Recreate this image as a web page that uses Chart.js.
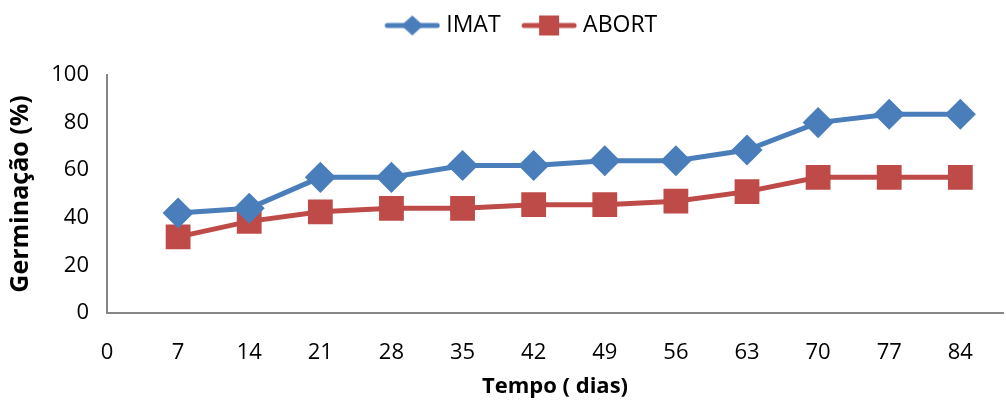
<!DOCTYPE html>
<html>
<head>
<meta charset="utf-8">
<script src="https://cdn.jsdelivr.net/npm/chart.js@4"></script>
<style>
  html, body { margin: 0; padding: 0; background: #fff; }
  #wrap { width: 1006px; height: 404px; }
</style>
</head>
<body>
<div id="wrap"><canvas id="chart" width="1006" height="404"></canvas></div>
<script>
// values
const days = [7, 14, 21, 28, 35, 42, 49, 56, 63, 70, 77, 84];
const xTicks = [0, 7, 14, 21, 28, 35, 42, 49, 56, 63, 70, 77, 84];
const imat = [42, 44, 57, 57, 62, 62, 64, 64, 68.5, 80, 83.5, 83.5];
const abort = [32, 38.5, 42.5, 44, 44, 45.5, 45.5, 47, 51, 57, 57, 57];
const yTicks = [0, 20, 40, 60, 80, 100];

const BLUE = '#4a7ebb';
const RED = '#be4b48';
const FONT = "'Open Sans', sans-serif";

// legend swatch: line with the marker on it, with some blank room on the left
function legendIcon(color, shape) {
    const c = document.createElement('canvas');
    c.width = 68; c.height = 22;
    const g = c.getContext('2d');
    g.strokeStyle = color;
    g.lineWidth = 5;
    g.lineCap = 'round';
    g.beginPath(); g.moveTo(15, 11); g.lineTo(65, 11); g.stroke();
    g.fillStyle = color;
    if (shape === 'diamond') {
        g.beginPath(); g.moveTo(40, 1); g.lineTo(51, 11); g.lineTo(40, 21); g.lineTo(29, 11); g.closePath(); g.fill();
    } else {
        g.fillRect(30, 1, 20, 20);
    }
    return c;
}

const toPoints = vals => vals.map((v, i) => ({ x: days[i], y: v }));

new Chart(document.getElementById('chart'), {
    type: 'line',
    data: {
        datasets: [{
            label: 'IMAT',
            data: toPoints(imat),
            borderColor: BLUE,
            backgroundColor: BLUE,
            borderWidth: 5,
            pointStyle: 'rectRot',
            pointRadius: 12,
            pointHoverRadius: 12,
            tension: 0
        }, {
            label: 'ABORT',
            data: toPoints(abort),
            borderColor: RED,
            backgroundColor: RED,
            borderWidth: 5,
            pointStyle: 'rect',
            pointRadius: 14,
            pointHoverRadius: 14,
            tension: 0
        }]
    },
    options: {
        responsive: false,
        animation: false,
        layout: { autoPadding: false, padding: { top: 0, right: 3, left: 0, bottom: 0 } },
        plugins: {
            legend: {
                position: 'top',
                labels: {
                    usePointStyle: true,
                    pointStyleWidth: 57,
                    padding: 14,
                    color: '#000',
                    font: { family: FONT, size: 23 },
                    generateLabels: chart => chart.data.datasets.map((ds, i) => ({
                        text: ds.label,
                        pointStyle: legendIcon(ds.borderColor, i === 0 ? 'diamond' : 'square'),
                        fillStyle: ds.borderColor,
                        strokeStyle: ds.borderColor,
                        lineWidth: 0,
                        fontColor: '#000',
                        datasetIndex: i
                    }))
                }
            },
            tooltip: { enabled: false }
        },
        scales: {
            x: {
                type: 'linear',
                min: 0,
                max: 88.2,
                afterBuildTicks: scale => { scale.ticks = xTicks.map(v => ({ value: v })); },
                afterFit: scale => { scale.height = 91; },
                grid: { display: false, drawTicks: false },
                border: { color: '#868686', width: 2 },
                ticks: { color: '#000', padding: 27, maxRotation: 0, autoSkip: false, font: { family: FONT, size: 22 } },
                title: { display: true, text: 'Tempo ( dias)', color: '#000', font: { family: FONT, size: 22, weight: 'bold' }, padding: { top: 7 } }
            },
            y: {
                min: 0,
                max: 100,
                afterBuildTicks: scale => { scale.ticks = yTicks.map(v => ({ value: v })); },
                afterFit: scale => { scale.width = 107; },
                grid: { display: false, drawTicks: false },
                border: { color: '#868686', width: 2 },
                ticks: { color: '#000', padding: 18, font: { family: FONT, size: 22 } },
                title: { display: true, text: 'Germinação (%)', color: '#000', font: { family: FONT, size: 25, weight: 'bold' }, padding: { top: 6, bottom: 4 } }
            }
        }
    },
    plugins: [{
        id: 'legendLayout',
        beforeInit(chart) {
            const fit = chart.legend.fit;
            chart.legend.fit = function () {
                fit.bind(chart.legend)();
                this.height = 75;
            };
        },
        afterLayout(chart) {
            // the original legend sits a little right of centre
            chart.legend.left += 16;
            chart.legend.right += 16;
        }
    }]
});
</script>
</body>
</html>
